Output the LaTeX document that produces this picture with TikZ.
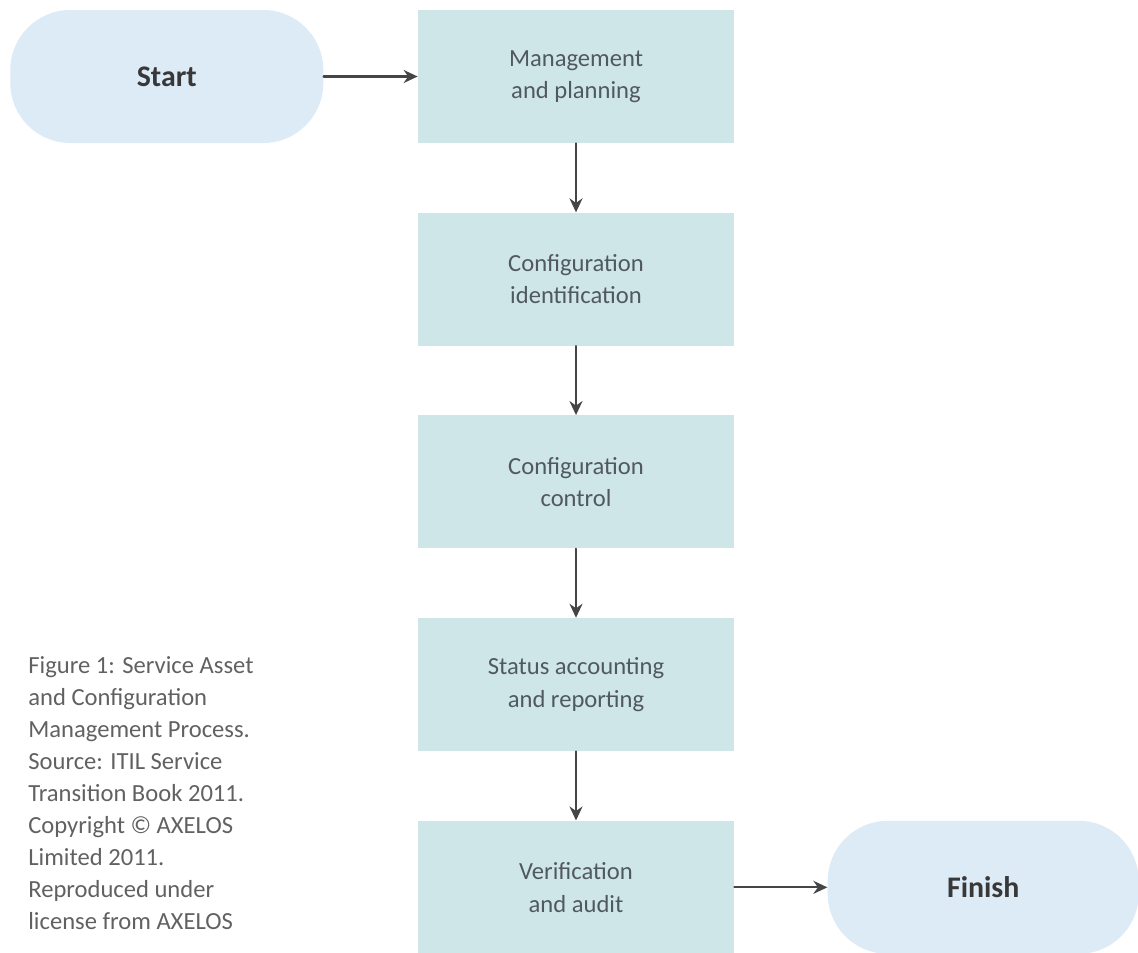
\documentclass[tikz,border=0pt]{standalone}
\usepackage{fontspec}
\setmainfont{Carlito}
\usetikzlibrary{arrows.meta,positioning}
\definecolor{stepfill}{HTML}{CFE6E9}
\definecolor{endfill}{HTML}{DDEBF7}
\definecolor{arrowgray}{HTML}{454545}
\definecolor{textgray}{HTML}{50595E}

\begin{document}
\begin{tikzpicture}[>={Stealth[length=2.8mm,width=2.6mm]},line cap=round,
  stepbox/.style={fill=stepfill,minimum width=6.32cm,minimum height=2.66cm,inner sep=0pt,
    align=center,text=textgray,font=\fontsize{14}{18.5}\selectfont},
  endbox/.style={fill=endfill,rounded corners=1.2cm,minimum height=2.66cm,inner sep=0pt,
    text=black!78,font=\fontsize{17}{20}\selectfont\bfseries},
  flow/.style={->,arrowgray,line width=1.3pt}]
\useasboundingbox (0,0) rectangle (22.76,-19.04);
% process steps
\node[stepbox] (mgmt) at (11.52,-1.53) {Management\\and planning};
\node[stepbox,below=1.38cm of mgmt] (ident) {Configuration\\identification};
\node[stepbox,below=1.38cm of ident] (ctrl) {Configuration\\control};
\node[stepbox,below=1.38cm of ctrl] (status) {Status accounting\\and reporting};
\node[stepbox,below=1.38cm of status] (verif) {Verification\\and audit};
% terminals
\node[endbox,minimum width=6.26cm,left=1.88cm of mgmt] (start) {Start};
\node[endbox,minimum width=6.22cm,right=1.86cm of verif] (finish) {Finish};
% connectors
\draw[flow] (start) -- (mgmt);
\draw[flow] (mgmt) -- (ident);
\draw[flow] (ident) -- (ctrl);
\draw[flow] (ctrl) -- (status);
\draw[flow] (status) -- (verif);
\draw[flow] (verif) -- (finish);
% caption
\node[anchor=north west,align=left,inner sep=0pt,text=black!62,
  font=\fontsize{14}{18.2}\selectfont] (caption) at (0.56,-13.12)
  {Figure 1: Service Asset\\and Configuration\\Management Process.\\Source: ITIL Service\\Transition Book 2011.\\Copyright © AXELOS\\Limited 2011.\\Reproduced under\\license from AXELOS};
\end{tikzpicture}
\end{document}
